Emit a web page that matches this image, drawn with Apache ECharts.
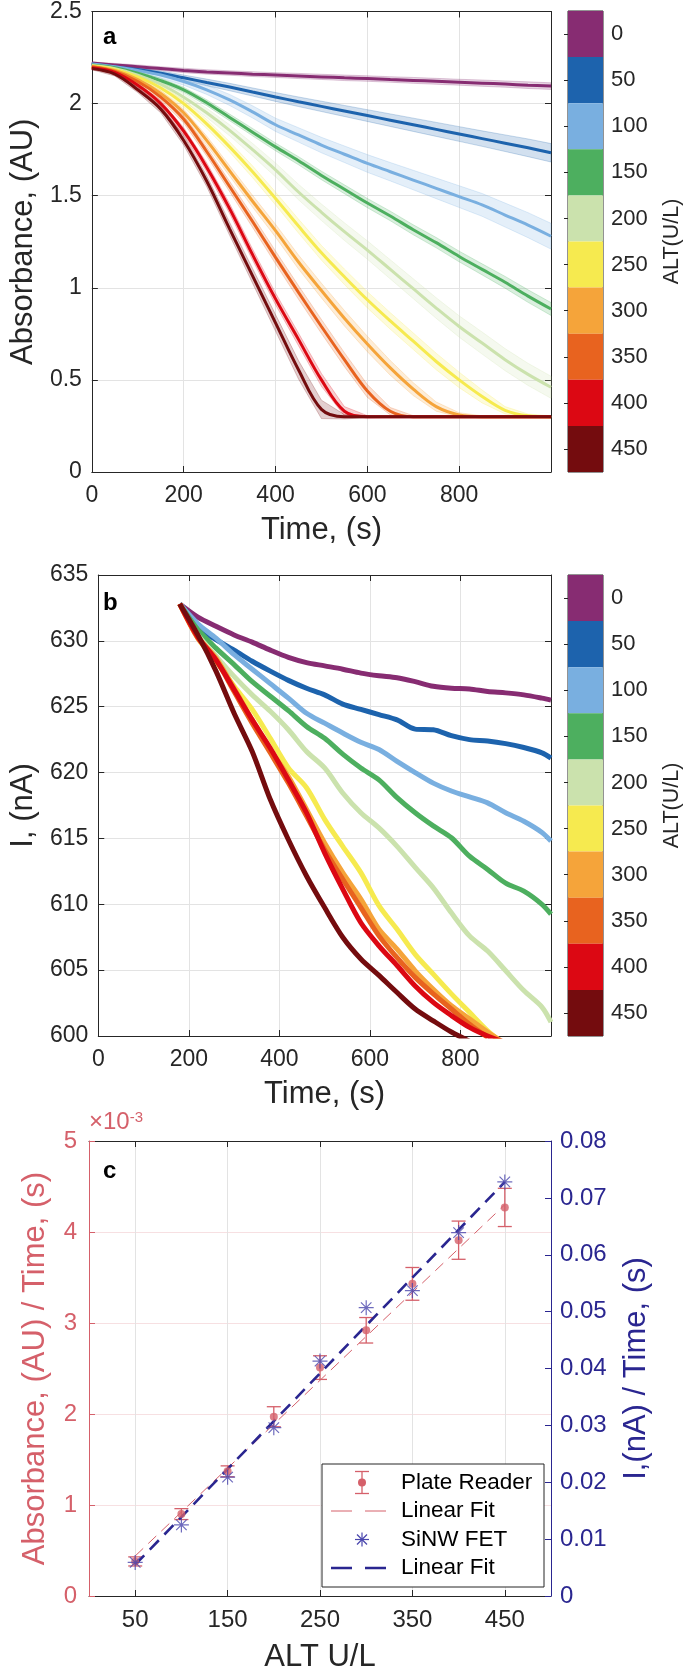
<!DOCTYPE html>
<html><head><meta charset="utf-8">
<script src="https://cdn.jsdelivr.net/npm/echarts@6/dist/echarts.min.js"></script>
<style>html,body{margin:0;padding:0;background:#fff}#c{width:685px;height:1674px}</style>
</head><body><div id="c"></div>
<script>
// ---------------- DATA ----------------
const ALT_LEVELS = [0, 50, 100, 150, 200, 250, 300, 350, 400, 450];

// Panel a: absorbance vs time
const TIME_A = [0,50,100,150,200,250,300,350,400,450,500,550,600,650,700,750,800,850,900,950,1000];
const ABS_0   = [2.22,2.21,2.20,2.19,2.18,2.172,2.166,2.16,2.155,2.15,2.145,2.14,2.136,2.131,2.126,2.121,2.116,2.111,2.106,2.10,2.095];
const ABS_50  = [2.215,2.20,2.185,2.165,2.14,2.115,2.09,2.063,2.036,2.01,1.985,1.96,1.935,1.91,1.885,1.86,1.835,1.81,1.785,1.76,1.733];
const ABS_100 = [2.215,2.20,2.18,2.155,2.12,2.075,2.02,1.955,1.885,1.83,1.775,1.725,1.675,1.63,1.585,1.54,1.495,1.45,1.395,1.34,1.28];
const ABS_150 = [2.21,2.195,2.165,2.125,2.075,2.005,1.925,1.845,1.765,1.69,1.61,1.535,1.46,1.39,1.315,1.245,1.17,1.10,1.03,0.955,0.885];
const ABS_200 = [2.205,2.19,2.155,2.105,2.035,1.95,1.855,1.75,1.64,1.52,1.41,1.305,1.205,1.10,0.995,0.89,0.79,0.70,0.61,0.53,0.46];
const ABS_250 = [2.205,2.185,2.145,2.085,2.00,1.89,1.765,1.63,1.485,1.335,1.19,1.06,0.935,0.82,0.71,0.60,0.50,0.41,0.335,0.305,0.30];
const ABS_300 = [2.20,2.18,2.13,2.055,1.95,1.80,1.635,1.47,1.31,1.14,0.985,0.835,0.695,0.565,0.45,0.355,0.31,0.30,0.30,0.30,0.30];
const ABS_350 = [2.20,2.175,2.12,2.035,1.915,1.74,1.55,1.36,1.165,0.975,0.79,0.61,0.44,0.33,0.30,0.30,0.30,0.30,0.30,0.30,0.30];
const ABS_400 = [2.195,2.17,2.10,2.00,1.85,1.655,1.43,1.18,0.94,0.72,0.50,0.33,0.30,0.30,0.30,0.30,0.30,0.30,0.30,0.30,0.30];
const ABS_450 = [2.19,2.16,2.075,1.97,1.80,1.58,1.32,1.065,0.81,0.555,0.34,0.30,0.30,0.30,0.30,0.30,0.30,0.30,0.30,0.30,0.30];
// half-width of the shaded band around each curve
const BAND_0   = [0.006,0.008,0.01,0.01,0.012,0.012,0.012,0.013,0.013,0.014,0.014,0.015,0.015,0.015,0.016,0.016,0.016,0.017,0.017,0.018,0.018];
const BAND_50  = [0.006,0.008,0.01,0.012,0.015,0.018,0.02,0.022,0.024,0.026,0.028,0.03,0.032,0.034,0.036,0.038,0.04,0.042,0.045,0.048,0.05];
const BAND_100 = [0.006,0.008,0.012,0.016,0.02,0.025,0.03,0.033,0.036,0.039,0.042,0.045,0.048,0.05,0.053,0.056,0.059,0.062,0.065,0.068,0.07];
const BAND_150 = [0.006,0.008,0.01,0.012,0.014,0.016,0.018,0.02,0.021,0.022,0.023,0.024,0.025,0.026,0.027,0.028,0.029,0.03,0.032,0.034,0.035];
const BAND_200 = [0.006,0.008,0.012,0.016,0.02,0.025,0.03,0.034,0.038,0.042,0.045,0.048,0.05,0.052,0.054,0.056,0.058,0.06,0.06,0.06,0.06];
const BAND_250 = [0.006,0.008,0.012,0.016,0.02,0.024,0.028,0.032,0.035,0.038,0.04,0.042,0.044,0.045,0.045,0.045,0.042,0.035,0.02,0.01,0.005];
const BAND_300 = [0.006,0.008,0.012,0.016,0.02,0.024,0.028,0.032,0.035,0.038,0.04,0.042,0.042,0.04,0.035,0.025,0.012,0.005,0.004,0.004,0.004];
const BAND_350 = [0.006,0.008,0.012,0.016,0.02,0.024,0.028,0.032,0.035,0.037,0.038,0.038,0.035,0.02,0.006,0.004,0.004,0.004,0.004,0.004,0.004];
const BAND_400 = [0.006,0.008,0.012,0.016,0.02,0.024,0.027,0.03,0.032,0.034,0.035,0.025,0.006,0.004,0.004,0.004,0.004,0.004,0.004,0.004,0.004];
const BAND_450 = [0.006,0.01,0.015,0.02,0.025,0.03,0.035,0.04,0.045,0.05,0.05,0.012,0.005,0.004,0.004,0.004,0.004,0.004,0.004,0.004,0.004];

// Panel b: SiNW FET current vs time
const TIME_B = [180,220,260,300,340,380,420,460,500,540,580,620,660,700,740,780,820,860,900,940,980,1000];
const CUR_0   = [632.8,631.8,631.1,630.45,629.9,629.3,628.75,628.35,628.1,627.85,627.55,627.35,627.2,626.9,626.55,626.4,626.35,626.15,626.05,625.9,625.65,625.5];
const CUR_50  = [632.8,630.95,630.1,629.3,628.45,627.7,627.0,626.4,625.9,625.2,624.8,624.4,624.0,623.3,623.25,622.8,622.5,622.4,622.2,621.9,621.5,621.1];
const CUR_100 = [632.8,631.3,630.2,628.95,627.85,626.75,625.65,624.5,623.75,623.0,622.3,621.75,620.85,620.0,619.2,618.6,618.15,617.7,616.95,616.3,615.45,614.8];
const CUR_150 = [632.8,630.85,629.45,628.2,626.9,625.8,624.7,623.5,622.6,621.4,620.35,619.45,618.1,616.95,615.95,615.05,613.65,612.65,611.6,611.0,610.0,609.25];
const CUR_200 = [632.8,630.45,628.85,627.3,625.9,624.65,623.25,621.6,620.35,618.45,616.95,615.8,614.4,612.8,611.25,609.35,607.6,606.45,604.95,603.45,602.2,601.05];
const CUR_250 = [632.8,630.2,628.45,626.55,624.8,622.6,620.35,618.85,616.45,614.4,612.4,609.9,608.1,606.2,604.7,603.2,601.8,600.4,599.3,null,null,null];
const CUR_300 = [632.8,630.3,628.7,626.4,624.0,621.75,619.7,617.2,614.65,612.4,610.4,608.1,606.6,604.95,603.55,602.3,601.3,600.3,599.4,null,null,null];
const CUR_350 = [632.8,630.2,628.55,626.15,623.75,621.5,619.2,616.7,614.15,611.9,609.75,607.6,605.95,604.45,603.2,602.05,600.9,599.9,null,null,null,null];
const CUR_400 = [632.8,630.3,628.55,626.3,624.0,621.85,619.45,616.95,613.9,611.15,608.6,606.85,605.35,603.8,602.55,601.55,600.65,600.0,599.5,null,null,null];
const CUR_450 = [632.8,630.45,627.7,624.5,621.6,617.95,614.9,612.15,609.75,607.5,605.85,604.6,603.3,602.05,601.15,600.3,599.6,null,null,null,null,null];

// Panel c: rates vs ALT
const ALT_C = [50,100,150,200,250,300,350,400,450];
const PLATE_RATE = [0.38,0.90,1.37,1.97,2.51,2.92,3.43,3.91,4.27];   // x 1e-3
const PLATE_ERR  = [0.05,0.06,0.06,0.11,0.13,0.14,0.18,0.21,0.21];
const SINW_RATE  = [0.0059,0.0125,0.0209,0.0296,0.0413,0.0507,0.0537,0.0639,0.0728];
const FIT_X = [50, 450];
const PLATE_FIT = [0.44, 4.30];
const SINW_FIT = [0.0055, 0.0728];

// ---------------- STYLE ----------------
const FF = '"Liberation Sans", Arial, Helvetica, sans-serif';
const AX = '#262626';
const GRIDC = '#e3e3e3';
const PINK = '#d5606a';
const NAVY = '#2a2690';
const STAR = '#4a46ad';
const COLORS = ['#872c72','#1d63ad','#79afe0','#4daf5f','#cbe2ad','#f6ea4f','#f5a43a','#e8631f','#dc0813','#740c0e'];
const TICK_FS = 23, TITLE_FS = 31;

function rgba(hex, a) {
  const n = parseInt(hex.slice(1), 16);
  return 'rgba(' + (n >> 16) + ',' + ((n >> 8) & 255) + ',' + (n & 255) + ',' + a + ')';
}

const ABS = [ABS_0,ABS_50,ABS_100,ABS_150,ABS_200,ABS_250,ABS_300,ABS_350,ABS_400,ABS_450];
const BAND = [BAND_0,BAND_50,BAND_100,BAND_150,BAND_200,BAND_250,BAND_300,BAND_350,BAND_400,BAND_450];
const CUR = [CUR_0,CUR_50,CUR_100,CUR_150,CUR_200,CUR_250,CUR_300,CUR_350,CUR_400,CUR_450];

const txt = (size, color) => ({ fontSize: size, color: color || AX, fontFamily: FF });
const lineAx = (color) => ({ show: true, onZero: false, lineStyle: { color: color || AX, width: 1 } });
const tickIn = (color) => ({ show: true, inside: true, length: 6, lineStyle: { color: color || AX, width: 1 } });

function boxAxes(gi, xr, yr, xName, yName) {
  const xs = [
    { gridIndex: gi, type: 'value', min: xr[0], max: xr[1], interval: xr[2], axisLine: lineAx(), axisTick: tickIn(),
      axisLabel: Object.assign({ margin: 12, showMaxLabel: false }, txt(TICK_FS)),
      splitLine: { show: true, lineStyle: { color: GRIDC, width: 1 } },
      name: xName, nameLocation: 'middle', nameGap: 43, nameTextStyle: txt(TITLE_FS) },
    { gridIndex: gi, type: 'value', position: 'top', min: xr[0], max: xr[1], interval: xr[2], axisLine: lineAx(),
      axisTick: tickIn(), axisLabel: { show: false }, splitLine: { show: false } }
  ];
  const ys = [
    { gridIndex: gi, type: 'value', min: yr[0], max: yr[1], interval: yr[2], axisLine: lineAx(), axisTick: tickIn(),
      axisLabel: Object.assign({ margin: 10 }, txt(TICK_FS)),
      splitLine: { show: true, lineStyle: { color: GRIDC, width: 1 } },
      name: yName, nameLocation: 'middle', nameGap: 39, nameTextStyle: txt(TITLE_FS) },
    { gridIndex: gi, type: 'value', position: 'right', min: yr[0], max: yr[1], interval: yr[2], axisLine: lineAx(),
      axisTick: tickIn(), axisLabel: { show: false }, splitLine: { show: false } }
  ];
  return [xs, ys];
}

function cbarAxes(gi) {
  return [
    { gridIndex: gi, type: 'value', min: 0, max: 1, show: false },
    { gridIndex: gi, type: 'category', data: ALT_LEVELS.map(String), inverse: true, position: 'right',
      axisLine: { show: false }, axisTick: { show: true, inside: true, alignWithLabel: true, length: 4, lineStyle: { color: AX } },
      axisLabel: Object.assign({ margin: 8 }, txt(22)),
      name: 'ALT(U/L)', nameLocation: 'middle', nameRotate: 90, nameGap: 58, nameTextStyle: txt(21.5) }
  ];
}

const [axA, ayA] = boxAxes(0, [0, 1000, 200], [0, 2.5, 0.5], 'Time, (s)', 'Absorbance, (AU)');
const [axB, ayB] = boxAxes(2, [0, 1000, 200], [600, 635, 5], 'Time, (s)', 'I, (nA)');
const [cbAx, cbAy] = cbarAxes(1);
const [cbBx, cbBy] = cbarAxes(3);

const C_TICKS = [50, 150, 250, 350, 450];
const axC = [
  { gridIndex: 4, type: 'value', min: 0, max: 500, axisLine: lineAx(),
    axisTick: Object.assign(tickIn(), { customValues: C_TICKS }),
    axisLabel: Object.assign({ margin: 12, customValues: C_TICKS }, txt(24)),
    splitLine: { show: true, lineStyle: { color: GRIDC, width: 1 } },
    name: 'ALT U/L', nameLocation: 'middle', nameGap: 46, nameTextStyle: txt(TITLE_FS) },
  { gridIndex: 4, type: 'value', position: 'top', min: 0, max: 500, axisLine: lineAx(),
    axisTick: Object.assign(tickIn(), { customValues: C_TICKS }), axisLabel: { show: false, customValues: C_TICKS }, splitLine: { show: false } }
];
const ayC = [
  { gridIndex: 4, type: 'value', min: 0, max: 5, interval: 1, axisLine: lineAx(PINK), axisTick: tickIn(PINK),
    axisLabel: Object.assign({ margin: 12 }, txt(24, PINK)),
    splitLine: { show: true, lineStyle: { color: '#f7e0e2', width: 1 } },
    name: 'Absorbance, (AU) / Time, (s)', nameLocation: 'middle', nameGap: 38, nameTextStyle: txt(TITLE_FS, PINK) },
  { gridIndex: 4, type: 'value', position: 'right', min: 0, max: 0.08, interval: 0.01, axisLine: lineAx(NAVY), axisTick: tickIn(NAVY),
    axisLabel: Object.assign({ margin: 9 }, txt(24, NAVY)), splitLine: { show: false },
    name: 'I,(nA) / Time, (s)', nameLocation: 'middle', nameRotate: 90, nameGap: 70, nameTextStyle: txt(TITLE_FS, NAVY) }
];

const series = [];
// panel a bands
ABS.forEach((vals, k) => {
  const band = BAND[k];
  series.push({
    type: 'custom', xAxisIndex: 0, yAxisIndex: 0, silent: true, z: 1,
    data: [[TIME_A[0], vals[0]]],
    renderItem: (params, api) => {
      const up = TIME_A.map((t, i) => api.coord([t, vals[i] + band[i]]));
      const lo = TIME_A.map((t, i) => api.coord([t, vals[i] - band[i]])).reverse();
      return { type: 'polygon', shape: { points: up.concat(lo) },
        style: { fill: rgba(COLORS[k], 0.2), stroke: rgba(COLORS[k], 0.3), lineWidth: 0.8 } };
    }
  });
});
// panel a lines
ABS.forEach((vals, k) => {
  series.push({ type: 'line', xAxisIndex: 0, yAxisIndex: 0, z: 3, data: TIME_A.map((t, i) => [t, vals[i]]),
    showSymbol: false, smooth: 0.35, lineStyle: { width: 3, color: COLORS[k] }, itemStyle: { color: COLORS[k] } });
});
// colorbars
[[2, 2], [5, 5]].forEach(([xi, yi]) => {
  series.push({ type: 'bar', xAxisIndex: xi, yAxisIndex: yi, barWidth: '100%', barCategoryGap: 0, silent: true,
    data: ALT_LEVELS.map((v, i) => ({ value: 1, itemStyle: { color: COLORS[i] } })) });
});
// panel b
CUR.forEach((vals, k) => {
  series.push({ type: 'line', xAxisIndex: 3, yAxisIndex: 3, z: 3, data: TIME_B.map((t, i) => [t, vals[i]]),
    showSymbol: false, smooth: 0.3, lineStyle: { width: 5, color: COLORS[k] }, itemStyle: { color: COLORS[k] } });
});
// panel c
series.push({ type: 'line', xAxisIndex: 6, yAxisIndex: 6, z: 3, data: FIT_X.map((x, i) => [x, PLATE_FIT[i]]),
  showSymbol: false, lineStyle: { width: 1, color: PINK, type: [11, 7] } });
series.push({ type: 'custom', xAxisIndex: 6, yAxisIndex: 6, z: 4,
  data: ALT_C.map((x, i) => [x, PLATE_RATE[i], PLATE_ERR[i]]),
  renderItem: (params, api) => {
    const x = api.value(0), y = api.value(1), e = api.value(2);
    const top = api.coord([x, y + e]), bot = api.coord([x, y - e]);
    const w = 7, st = { stroke: PINK, lineWidth: 1.3 };
    return { type: 'group', children: [
      { type: 'line', shape: { x1: top[0], y1: top[1], x2: bot[0], y2: bot[1] }, style: st },
      { type: 'line', shape: { x1: top[0] - w, y1: top[1], x2: top[0] + w, y2: top[1] }, style: st },
      { type: 'line', shape: { x1: bot[0] - w, y1: bot[1], x2: bot[0] + w, y2: bot[1] }, style: st }
    ] };
  } });
series.push({ type: 'scatter', xAxisIndex: 6, yAxisIndex: 6, z: 5, data: ALT_C.map((x, i) => [x, PLATE_RATE[i]]),
  symbol: 'circle', symbolSize: 8, itemStyle: { color: PINK } });
series.push({ type: 'line', xAxisIndex: 6, yAxisIndex: 7, z: 4, data: FIT_X.map((x, i) => [x, SINW_FIT[i]]),
  showSymbol: false, lineStyle: { width: 2.6, color: NAVY, type: [13, 8] } });
const STAR_PATH = 'path://M10,0L10,20M0,10L20,10M3,3L17,17M3,17L17,3';
series.push({ type: 'scatter', xAxisIndex: 6, yAxisIndex: 7, z: 6, data: ALT_C.map((x, i) => [x, SINW_RATE[i]]),
  symbol: STAR_PATH, symbolSize: 15, itemStyle: { color: 'rgba(0,0,0,0)', borderColor: STAR, borderWidth: 1.2 } });

// legend for panel c (drawn as graphic)
const LX = 322, LY = 1464, LW = 222, LH = 123;
const rows = [1482.5, 1511, 1539.5, 1568];
const legendEls = [
  { type: 'rect', shape: { x: LX, y: LY, width: LW, height: LH }, style: { fill: '#fff', stroke: AX, lineWidth: 1 }, z: 100 },
  { type: 'line', shape: { x1: 362, y1: rows[0] - 11, x2: 362, y2: rows[0] + 11 }, style: { stroke: PINK, lineWidth: 1.3 }, z: 101 },
  { type: 'line', shape: { x1: 355, y1: rows[0] - 11, x2: 369, y2: rows[0] - 11 }, style: { stroke: PINK, lineWidth: 1.3 }, z: 101 },
  { type: 'line', shape: { x1: 355, y1: rows[0] + 11, x2: 369, y2: rows[0] + 11 }, style: { stroke: PINK, lineWidth: 1.3 }, z: 101 },
  { type: 'circle', shape: { cx: 362, cy: rows[0], r: 4 }, style: { fill: PINK }, z: 102 },
  { type: 'line', shape: { x1: 331, y1: rows[1], x2: 386, y2: rows[1] }, style: { stroke: PINK, lineWidth: 1, lineDash: [21, 13] }, z: 101 },
  { type: 'line', shape: { x1: 355, y1: rows[2], x2: 369, y2: rows[2] }, style: { stroke: STAR, lineWidth: 1.2 }, z: 101 },
  { type: 'line', shape: { x1: 362, y1: rows[2] - 7, x2: 362, y2: rows[2] + 7 }, style: { stroke: STAR, lineWidth: 1.2 }, z: 101 },
  { type: 'line', shape: { x1: 357, y1: rows[2] - 5, x2: 367, y2: rows[2] + 5 }, style: { stroke: STAR, lineWidth: 1.2 }, z: 101 },
  { type: 'line', shape: { x1: 357, y1: rows[2] + 5, x2: 367, y2: rows[2] - 5 }, style: { stroke: STAR, lineWidth: 1.2 }, z: 101 },
  { type: 'line', shape: { x1: 331, y1: rows[3], x2: 386, y2: rows[3] }, style: { stroke: NAVY, lineWidth: 2.6, lineDash: [21, 13] }, z: 101 }
];
['Plate Reader', 'Linear Fit', 'SiNW FET', 'Linear Fit'].forEach((t, i) => {
  legendEls.push({ type: 'text', x: 401, y: rows[i], z: 102,
    style: { text: t, fill: '#000', font: '22.5px ' + FF, align: 'left', verticalAlign: 'middle' } });
});

const graphics = [
  { type: 'text', x: 103, y: 37, style: { text: 'a', fill: '#000', font: 'bold 24px ' + FF, verticalAlign: 'middle' } },
  { type: 'text', x: 103, y: 603, style: { text: 'b', fill: '#000', font: 'bold 24px ' + FF, verticalAlign: 'middle' } },
  { type: 'text', x: 103, y: 1171, style: { text: 'c', fill: '#000', font: 'bold 24px ' + FF, verticalAlign: 'middle' } },
  { type: 'text', x: 89, y: 1122, style: { text: '{a|×10}{b|-3}', fill: PINK, verticalAlign: 'middle',
      rich: { a: { fontSize: 24, fontFamily: FF, fill: PINK, verticalAlign: 'bottom' }, b: { fontSize: 15, fontFamily: FF, fill: PINK, verticalAlign: 'top' } } } }
].concat(legendEls);

const option = {
  animation: false,
  backgroundColor: '#fff',
  grid: [
    { left: 89, top: 11, width: 462, height: 461 },
    { left: 568, top: 11, width: 35, height: 461, show: true, borderColor: AX, borderWidth: 1 },
    { left: 89, top: 575, width: 462, height: 461 },
    { left: 568, top: 575, width: 35, height: 461, show: true, borderColor: AX, borderWidth: 1 },
    { left: 89, top: 1141, width: 462, height: 459 }
  ],
  xAxis: [axA[0], axA[1], cbAx, axB[0], axB[1], cbBx, axC[0], axC[1]],
  yAxis: [ayA[0], ayA[1], cbAy, ayB[0], ayB[1], cbBy, ayC[0], ayC[1]],
  series: series,
  graphic: graphics
};

const chart = echarts.init(document.getElementById('c'));
chart.setOption(option);
</script>
</body></html>
